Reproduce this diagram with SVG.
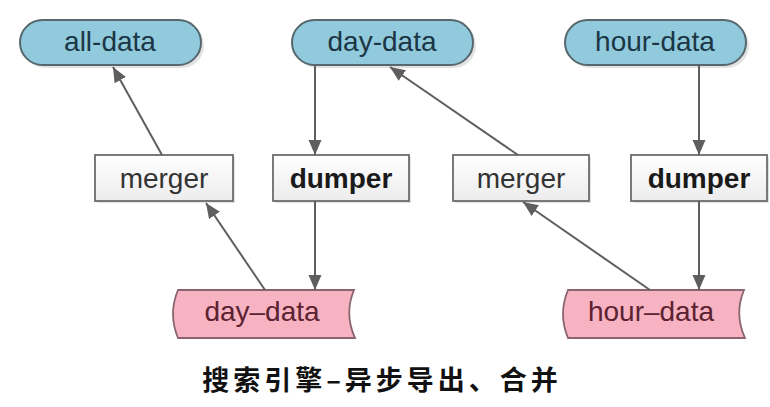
<svg xmlns="http://www.w3.org/2000/svg" width="770" height="407" viewBox="0 0 770 407">
<defs>
<style>
.pill{fill:#90cadc;stroke:#56676d;stroke-width:2}
.box{fill:url(#boxg);stroke:#6c6c6c;stroke-width:1.8}
.tape{fill:#f7b3c1;stroke:#8a6570;stroke-width:1.8}
.shadow{fill:#cfcfcf;opacity:0.6}
.t{font-family:"Liberation Sans",Arial,sans-serif;font-size:28px;text-anchor:middle}
.tb{fill:#1c3646}
.tk{fill:#333333}
.bold{font-weight:bold;fill:#1a1a1a}
.tp{fill:#5b2231}
.edge{stroke:#5e5e5e;stroke-width:2;fill:none;marker-end:url(#ah)}
.title{font-family:"Noto Sans CJK SC","Noto Sans CJK JP",sans-serif;font-size:27px;font-weight:bold;letter-spacing:4px;text-anchor:middle;fill:#111}
</style>
<linearGradient id="boxg" x1="0" y1="0" x2="0" y2="1">
<stop offset="0" stop-color="#ffffff"/>
<stop offset="1" stop-color="#ececec"/>
</linearGradient>
<marker id="ah" markerUnits="userSpaceOnUse" markerWidth="16" markerHeight="14" refX="15" refY="6.5" orient="auto">
<path d="M0,0 L15,6.5 L0,13 Z" fill="#5e5e5e"/>
</marker>
</defs>
<rect width="770" height="407" fill="#ffffff"/>

<g id="all-data">
<rect class="shadow" x="23" y="23" width="181" height="45" rx="22.5"/>
<rect class="pill" x="20" y="20" width="181" height="45" rx="22.5"/>
<text class="t tb" x="110" y="51">all-data</text>
</g>
<g id="day-data">
<rect class="shadow" x="295" y="23" width="181" height="45" rx="22.5"/>
<rect class="pill" x="292" y="20" width="181" height="45" rx="22.5"/>
<text class="t tb" x="382" y="51">day-data</text>
</g>
<g id="hour-data">
<rect class="shadow" x="568" y="23" width="181" height="45" rx="22.5"/>
<rect class="pill" x="565" y="20" width="181" height="45" rx="22.5"/>
<text class="t tb" x="655" y="51">hour-data</text>
</g>

<g id="merger1">
<rect class="shadow" x="97" y="157" width="138" height="46"/>
<rect class="box" x="95" y="155" width="138" height="46"/>
<text class="t tk" x="164" y="188">merger</text>
</g>
<g id="dumper1">
<rect class="shadow" x="275" y="157" width="136" height="46"/>
<rect class="box" x="273" y="155" width="136" height="46"/>
<text class="t bold" x="341" y="188">dumper</text>
</g>
<g id="merger2">
<rect class="shadow" x="455" y="157" width="136" height="46"/>
<rect class="box" x="453" y="155" width="136" height="46"/>
<text class="t tk" x="521" y="188">merger</text>
</g>
<g id="dumper2">
<rect class="shadow" x="633" y="157" width="136" height="46"/>
<rect class="box" x="631" y="155" width="136" height="46"/>
<text class="t bold" x="699" y="188">dumper</text>
</g>

<g id="day-data-store">
<path class="tape" d="M178,290 L354,290 Q344,314 355,338 L178,338 Q168,314 178,290 Z"/>
<text class="t tp" x="262" y="321">day–data</text>
</g>
<g id="hour-data-store">
<path class="tape" d="M568,290 L744,290 Q734,314 745,338 L568,338 Q558,314 568,290 Z"/>
<text class="t tp" x="651" y="321">hour–data</text>
</g>

<g id="connectors">
<line class="edge" x1="162" y1="155" x2="113" y2="67"/>
<line class="edge" x1="315" y1="65" x2="315" y2="155"/>
<line class="edge" x1="518" y1="155" x2="390" y2="67"/>
<line class="edge" x1="699" y1="65" x2="699" y2="155"/>
<line class="edge" x1="315" y1="201" x2="315" y2="290"/>
<line class="edge" x1="265" y1="290" x2="206" y2="203"/>
<line class="edge" x1="699" y1="201" x2="699" y2="290"/>
<line class="edge" x1="650" y1="290" x2="523" y2="202"/>
</g>

<text class="title" x="382" y="390">搜索引擎–异步导出、合并</text>
</svg>
